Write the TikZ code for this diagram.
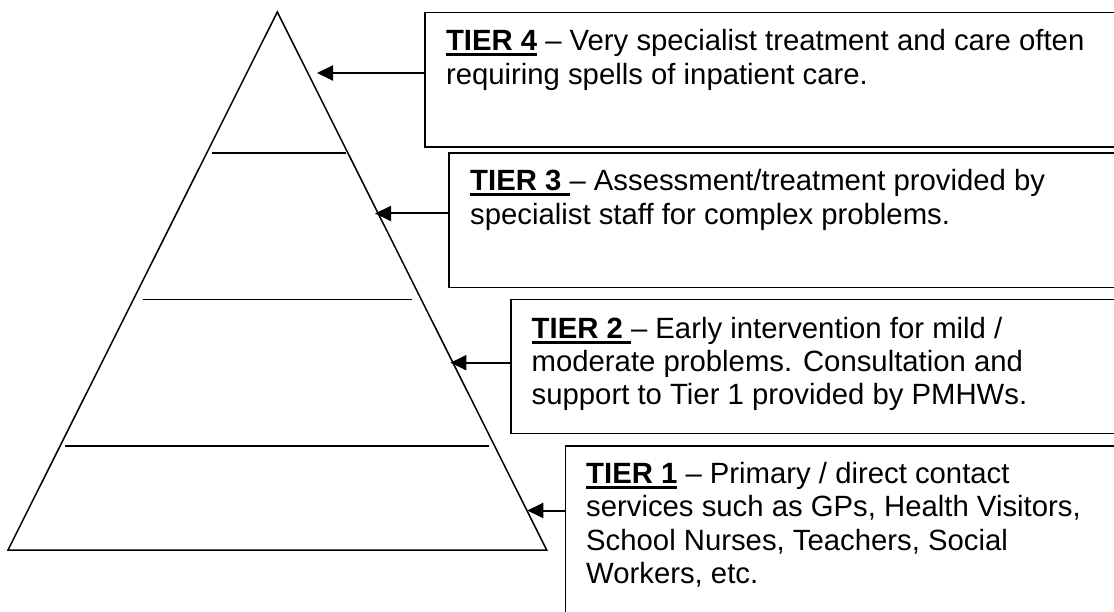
\documentclass[tikz,border=0pt]{standalone}
\usepackage{fontspec}
\setmainfont{Liberation Sans}
\usetikzlibrary{arrows.meta}
\newcommand\tierul[1]{\setbox0\hbox{\bfseries #1}\rlap{\rule[-5.5pt]{\wd0}{3pt}}\box0\relax}
\begin{document}
\begin{tikzpicture}[x=1pt,y=-1pt,
  edge/.style={line width=1.5pt,line join=miter},
  box/.style={draw,line width=1.5pt,anchor=north west,inner sep=0pt,outer sep=0pt},
  txt/.style={anchor=base west,inner sep=0pt,font=\fontsize{29.3pt}{33.6pt}\selectfont},
  arr/.style={line width=2pt,-{Triangle[length=16pt,width=15pt]}}]
\useasboundingbox (0,0) rectangle (1114,612);
\clip (0,0) rectangle (1114,612);
% pyramid
\coordinate (apex) at (277.3,12);
\coordinate (bl) at (8,550);
\coordinate (br) at (546.7,550);
\draw[edge] (apex) -- (br) -- (bl) -- cycle;
\draw[edge] (211.6,152.9) -- (346.4,152.9);
\draw[edge] (142.7,299.5) -- (412.2,299.5);
\draw[edge] (65,445.8) -- (489,445.8);
% boxes
\node[box,minimum width=720pt,minimum height=134.5pt] (b4) at (424.8,12.5) {};
\node[box,minimum width=700pt,minimum height=134.4pt] (b3) at (449,153) {};
\node[box,minimum width=640pt,minimum height=134pt] (b2) at (511,299.5) {};
\node[box,minimum width=600pt,minimum height=200pt] (b1) at (565.5,446) {};
% texts
\node[txt] (t4) at ([shift={(21,38)}]b4.north west) {\vtop{\baselineskip=33.6pt
  \hbox{\tierul{TIER 4} – Very specialist treatment and care often}
  \hbox{requiring spells of inpatient care.}}};
\node[txt] (t3) at ([shift={(21,38)}]b3.north west) {\vtop{\baselineskip=33.6pt
  \hbox{\tierul{TIER 3\ }– Assessment/treatment provided by}
  \hbox{specialist staff for complex problems.}}};
\node[txt] (t2) at ([shift={(20.5,38.5)}]b2.north west) {\vtop{\baselineskip=33.2pt
  \hbox{\tierul{TIER 2\ }– Early intervention for mild /}
  \hbox{moderate problems. Consultation and}
  \hbox{support to Tier 1 provided by PMHWs.}}};
\node[txt] (t1) at ([shift={(20.5,37.5)}]b1.north west) {\vtop{\baselineskip=33.4pt
  \hbox{\tierul{TIER 1} – Primary / direct contact}
  \hbox{services such as GPs, Health Visitors,}
  \hbox{School Nurses, Teachers, Social}
  \hbox{Workers, etc.}}};
% arrow tips
\coordinate (a4) at (317,73);
\coordinate (a3) at (375,213.5);
\coordinate (a2) at (450.4,362.7);
\coordinate (a1) at (527.3,510.5);
\draw[arr] (b4.west |- a4) -- (a4);
\draw[arr] (b3.west |- a3) -- (a3);
\draw[arr] (b2.west |- a2) -- (a2);
\draw[arr] (b1.west |- a1) -- (a1);
\end{tikzpicture}
\end{document}
